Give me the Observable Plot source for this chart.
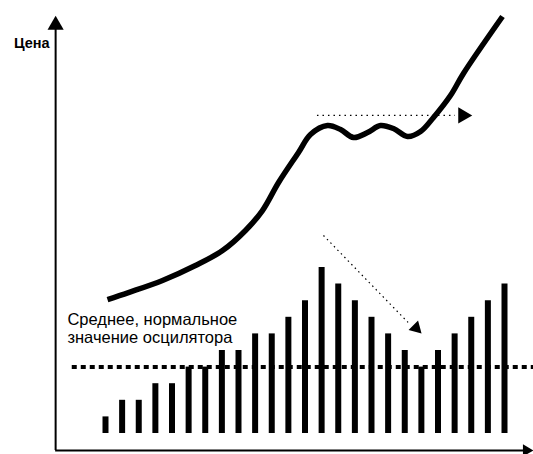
<!DOCTYPE html>
<html>
<head>
<meta charset="utf-8">
<script src="https://cdn.jsdelivr.net/npm/d3@7"></script>
<script src="https://cdn.jsdelivr.net/npm/@observablehq/plot@0.6"></script>
<style>
  html, body { margin: 0; padding: 0; background: #fff; }
  #chart svg { display: block; }
</style>
</head>
<body>
<div id="chart"></div>
<script>
// Oscillator bars (time index, level)
const barIndex = [1,2,3,4,5,6,7,8,9,10,11,12,13,14,15,16,17,18,19,20,21,22,23,24,25];
const barValue = [1,2,2,3,3,4,4,5,5,6,6,7,8,10,9,8,7,6,5,4,5,6,7,8,9];

// Mean (normal) oscillator value
const meanValue = 4;

// Price curve (time index, price level in the same units)
const priceX = [1.12,2.38,4.43,6.41,8.04,9.42,10.44,11.41,12.61,13.33,14.35,15.14,15.92,16.76,17.54,18.32,19.17,19.95,20.73,21.75,22.53,24.88];
const priceY = [8.07,8.49,9.22,10.12,11.02,12.23,13.43,15.12,16.93,18.01,18.55,18.31,17.83,18.13,18.55,18.37,17.89,18.19,19.04,20.36,21.69,25.12];

// Labels
const yLabel = "Цена";
const meanLabelLines = ["Среднее, нормальное", "значение осцилятора"];

// Annotation guides (index, level)
const axisOrigin = {x: -2, y: -1.02};
const axisEnd = {x: 26.75, y: 25.2};
const trendFlat = {x1: 13.75, x2: 22.05, y: 19.16};
const trendDown = {x1: 14.11, y1: 11.93, x2: 19.2, y2: 6.69};
const meanLineStart = -1;

const bars = barIndex.map((i, k) => ({i, v: barValue[k]}));
const price = priceX.map((x, k) => ({x, y: priceY[k]}));

const bigHeads = [
  {x: axisOrigin.x, y: 24.6, rotate: 0},      // y-axis arrow
  {x: 22.5, y: trendFlat.y, rotate: 90}       // flat trend arrow
];
const xHead = [{x: 26.32, y: axisOrigin.y, rotate: 90}];
const downHead = [{x: 19.68, y: 6.36, rotate: 135}];

const chart = Plot.plot({
  width: 533,
  height: 454,
  margin: 0,
  x: {domain: [1, 25], range: [105, 504], axis: null},
  y: {domain: [0, 10], range: [433, 267], axis: null},
  style: {background: "#fff", fontFamily: "'Liberation Sans', Arial, sans-serif", color: "#000"},
  marks: [
    // axes
    Plot.ruleX([axisOrigin.x], {y1: axisOrigin.y, y2: 24.6, stroke: "#000", strokeWidth: 2}),
    Plot.ruleY([axisOrigin.y], {x1: axisOrigin.x, x2: 26.3, stroke: "#000", strokeWidth: 2}),
    // oscillator bars
    Plot.ruleX(bars, {x: "i", y1: 0, y2: "v", stroke: "#000", strokeWidth: 6}),
    // mean line
    Plot.ruleY([meanValue], {x1: meanLineStart, x2: axisEnd.x, stroke: "#000", strokeWidth: 4, strokeDasharray: "5,4"}),
    // price curve
    Plot.line(price, {x: "x", y: "y", curve: "catmull-rom", stroke: "#000", strokeWidth: 5.5, strokeLinecap: "butt"}),
    // trend guides
    Plot.ruleY([trendFlat.y], {x1: trendFlat.x1, x2: trendFlat.x2, stroke: "#000", strokeWidth: 1.2, strokeDasharray: "1.5,4"}),
    Plot.link([trendDown], {x1: "x1", y1: "y1", x2: "x2", y2: "y2", stroke: "#000", strokeWidth: 1.2, strokeDasharray: "1.5,3.5"}),
    // arrowheads
    Plot.dot(bigHeads, {x: "x", y: "y", r: 6, rotate: "rotate", symbol: "triangle", fill: "#000", stroke: "none"}),
    Plot.dot(xHead, {x: "x", y: "y", r: 4.5, rotate: "rotate", symbol: "triangle", fill: "#000", stroke: "none"}),
    Plot.dot(downHead, {x: "x", y: "y", r: 5, rotate: "rotate", symbol: "triangle", fill: "#000", stroke: "none"}),
    // labels
    Plot.text([yLabel], {x: axisOrigin.x, y: 23.52, text: d => d, textAnchor: "end", dx: -6, fontSize: 14.5, fontWeight: "bold", fill: "#000"}),
    Plot.text(meanLabelLines.map((t, k) => ({t, y: [6.83, 5.80][k]})), {x: -1.29, y: "y", text: "t", textAnchor: "start", fontSize: 16.5, fill: "#000"})
  ]
});
document.getElementById("chart").append(chart);
</script>
</body>
</html>
